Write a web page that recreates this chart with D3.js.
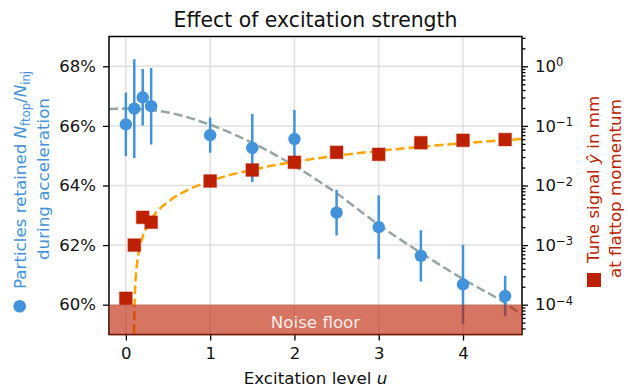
<!DOCTYPE html>
<html><head><meta charset="utf-8">
<script src="https://cdn.jsdelivr.net/npm/d3@7"></script>
<style>body{margin:0;background:#fff} svg{display:block} text{font-family:"DejaVu Sans",sans-serif}</style>
</head><body><svg id="c" width="628" height="390"></svg>
<script>
// ---- data ----
const excitation = [0, 0.1, 0.2, 0.3, 1, 1.5, 2, 2.5, 3, 3.5, 4, 4.5];
const retained = [66.05, 66.58, 66.96, 66.66, 65.69, 65.26, 65.56, 63.09, 62.60, 61.64, 60.68, 60.29];
const retainedErr = [1.07, 1.66, 0.95, 1.28, 0.59, 1.14, 0.97, 0.77, 1.07, 0.86, 1.33, 0.68];
const tuneSignal = [1.28e-4, 1.0e-3, 2.92e-3, 2.42e-3, 0.0119, 0.0182, 0.0245, 0.036, 0.0333, 0.0522, 0.0573, 0.0590];
const retainedFitU = [-0.2, 0, 0.5, 1, 1.5, 2, 2.5, 3, 3.5, 4, 4.5, 4.7];
const retainedFitV = [66.57, 66.58, 66.45, 66.04, 65.43, 64.66, 63.74, 62.68, 61.74, 60.86, 60.05, 59.66];
const tuneFitU = [0.0975, 0.1, 0.105, 0.115, 0.135, 0.165, 0.2, 0.3, 0.5, 0.75, 1, 1.5, 2, 2.5, 3, 3.5, 4, 4.7];
const tuneFitV = [3.3e-5, 6.6e-5, 1.31e-4, 2.62e-4, 5.2e-4, 9.2e-4, 1.38e-3, 2.69e-3, 5.3e-3, 8.6e-3, 0.0119, 0.0184, 0.025, 0.0315, 0.038, 0.0446, 0.0511, 0.0603];
const xTicks = [0, 1, 2, 3, 4];
const leftTicks = [60, 62, 64, 66, 68];
const rightTicks = [1e-4, 1e-3, 1e-2, 1e-1, 1];
const noiseFloor = 60;

// ---- styles ----
const blue = "#4292dc", red = "#bd2100", orange = "#ffa500", grey = "#95a5a6";
const L = 109, R = 522, T = 36.5, B = 334.5;
const svg = d3.select("#c");

const x = d3.scaleLinear().domain([-0.2, 4.7]).range([L, R]);
const yL = d3.scaleLinear().domain([59, 69]).range([B, T]);
const yR = d3.scaleLog().domain([Math.pow(10, -4.5), Math.pow(10, 0.5)]).range([B, T]);

svg.append("defs").append("clipPath").attr("id", "clip")
  .append("rect").attr("x", L).attr("y", T).attr("width", R - L).attr("height", B - T);

// grid
const grid = svg.append("g");
grid.selectAll(".gx").data(xTicks).join("line")
  .attr("x1", d => x(d)).attr("x2", d => x(d)).attr("y1", T).attr("y2", B)
  .attr("stroke", "#e0e0e0").attr("stroke-width", 1.5);
grid.selectAll(".gy").data(leftTicks).join("line")
  .attr("y1", d => yL(d)).attr("y2", d => yL(d)).attr("x1", L).attr("x2", R)
  .attr("stroke", "#e0e0e0").attr("stroke-width", 1.5);

const plot = svg.append("g").attr("clip-path", "url(#clip)");

// fit curves
plot.append("path")
  .attr("d", d3.line().x(d => x(d[0])).y(d => yL(d[1])).curve(d3.curveMonotoneX)(retainedFitU.map((u, i) => [u, retainedFitV[i]])))
  .attr("fill", "none").attr("stroke", grey).attr("stroke-width", 2.5).attr("stroke-dasharray", "9,4");
plot.append("path")
  .attr("d", d3.line().x(d => x(d[0])).y(d => yR(d[1])).curve(d3.curveMonotoneX)(tuneFitU.map((u, i) => [u, tuneFitV[i]])))
  .attr("fill", "none").attr("stroke", orange).attr("stroke-width", 2.5).attr("stroke-dasharray", "9,4");

// retained: error bars + circles
plot.selectAll(".eb").data(excitation).join("line")
  .attr("x1", d => x(d)).attr("x2", d => x(d))
  .attr("y1", (d, i) => yL(retained[i] - retainedErr[i]))
  .attr("y2", (d, i) => yL(retained[i] + retainedErr[i]))
  .attr("stroke", blue).attr("stroke-width", 2.5);
plot.selectAll(".pt").data(excitation).join("circle")
  .attr("cx", d => x(d)).attr("cy", (d, i) => yL(retained[i])).attr("r", 6.2)
  .attr("fill", blue);

// tune signal squares
const s = 12.8;
plot.selectAll(".sq").data(excitation).join("rect")
  .attr("x", d => x(d) - s / 2).attr("y", (d, i) => yR(tuneSignal[i]) - s / 2)
  .attr("width", s).attr("height", s)
  .attr("fill", red).attr("stroke", red).attr("stroke-opacity", 0.35).attr("stroke-width", 1.2);

// axes
function styleAxis(g) {
  g.select(".domain").remove();
  g.selectAll(".tick line").attr("stroke", "#000").attr("stroke-width", 1.3);
  g.selectAll(".tick text").attr("fill", "#111").style("font-size", "16.5px").style("font-family", "DejaVu Sans");
}
svg.append("g").attr("transform", `translate(0,${B})`)
  .call(d3.axisBottom(x).tickValues(xTicks).tickFormat(d3.format("d")).tickSize(6).tickPadding(7))
  .call(styleAxis);
svg.append("g").attr("transform", `translate(${L},0)`)
  .call(d3.axisLeft(yL).tickValues(leftTicks).tickFormat(d => d + "%").tickSize(6).tickPadding(7))
  .call(styleAxis);
const minor = [];
for (let e = -5; e <= 0; e++) for (let m = 2; m <= 9; m++) {
  const v = m * Math.pow(10, e);
  if (v >= yR.domain()[0] && v <= yR.domain()[1]) minor.push(v);
}
svg.append("g").attr("transform", `translate(${R},0)`)
  .call(d3.axisRight(yR).tickValues(minor).tickFormat("").tickSize(3.5))
  .call(styleAxis);
const ra = svg.append("g").attr("transform", `translate(${R},0)`)
  .call(d3.axisRight(yR).tickValues(rightTicks).tickFormat("").tickSize(6).tickPadding(7))
  .call(styleAxis);
ra.selectAll(".tick text").each(function (d) {
  const t = d3.select(this).text(null);
  const ex = Math.round(Math.log10(d));
  t.append("tspan").text("10");
  t.append("tspan").attr("dy", "-0.5em").style("font-size", "11.5px").text(String(ex).replace("-", "\u2212"));
});

// spines
svg.append("rect").attr("x", L).attr("y", T).attr("width", R - L).attr("height", B - T)
  .attr("fill", "none").attr("stroke", "#000").attr("stroke-width", 1.5);

// noise floor band
svg.append("rect").attr("x", L).attr("y", yL(noiseFloor)).attr("width", R - L).attr("height", B - yL(noiseFloor) + 0.8)
  .attr("fill", red).attr("fill-opacity", 0.62);
svg.append("text").attr("x", (L + R) / 2).attr("y", 328.3).attr("text-anchor", "middle")
  .attr("fill", "#fff").attr("fill-opacity", 0.88).style("font-size", "16.7px").text("Noise floor");

// title & x label
svg.append("text").attr("x", (L + R) / 2).attr("y", 26.5).attr("text-anchor", "middle")
  .attr("fill", "#111").style("font-size", "20.4px").text("Effect of excitation strength");
const xl = svg.append("text").attr("x", (L + R) / 2).attr("y", 384).attr("text-anchor", "middle")
  .attr("fill", "#111").style("font-size", "16.7px");
xl.append("tspan").text("Excitation level ");
xl.append("tspan").attr("font-style", "italic").text("u");

// left label
svg.append("circle").attr("cx", 19.7).attr("cy", 306.3).attr("r", 6.3).attr("fill", blue);
const l1 = svg.append("text").attr("transform", "translate(26,289) rotate(-90)").attr("fill", blue).style("font-size", "16.7px");
l1.append("tspan").text("Particles retained ");
l1.append("tspan").attr("font-style", "italic").text("N");
l1.append("tspan").style("font-size", "11.7px").attr("dy", 3.5).text("ftop");
l1.append("tspan").attr("dy", -3.5).text("/");
l1.append("tspan").attr("font-style", "italic").text("N");
l1.append("tspan").style("font-size", "11.7px").attr("dy", 3.5).text("inj");
svg.append("text").attr("transform", "translate(49,260) rotate(-90)").attr("fill", blue).style("font-size", "16.7px")
  .text("during acceleration");

// right label
svg.append("rect").attr("x", 594 - 7).attr("y", 280 - 7).attr("width", 14).attr("height", 14).attr("fill", red);
const r1 = svg.append("text").attr("transform", "translate(599,263) rotate(-90)").attr("fill", red).style("font-size", "16.7px");
r1.append("tspan").text("Tune signal ");
r1.append("tspan").attr("font-style", "italic").text("\u0177");
r1.append("tspan").text(" in mm");
svg.append("text").attr("transform", "translate(621,278) rotate(-90)").attr("fill", red).style("font-size", "16.7px")
  .text("at flattop momentum");
</script></body></html>
